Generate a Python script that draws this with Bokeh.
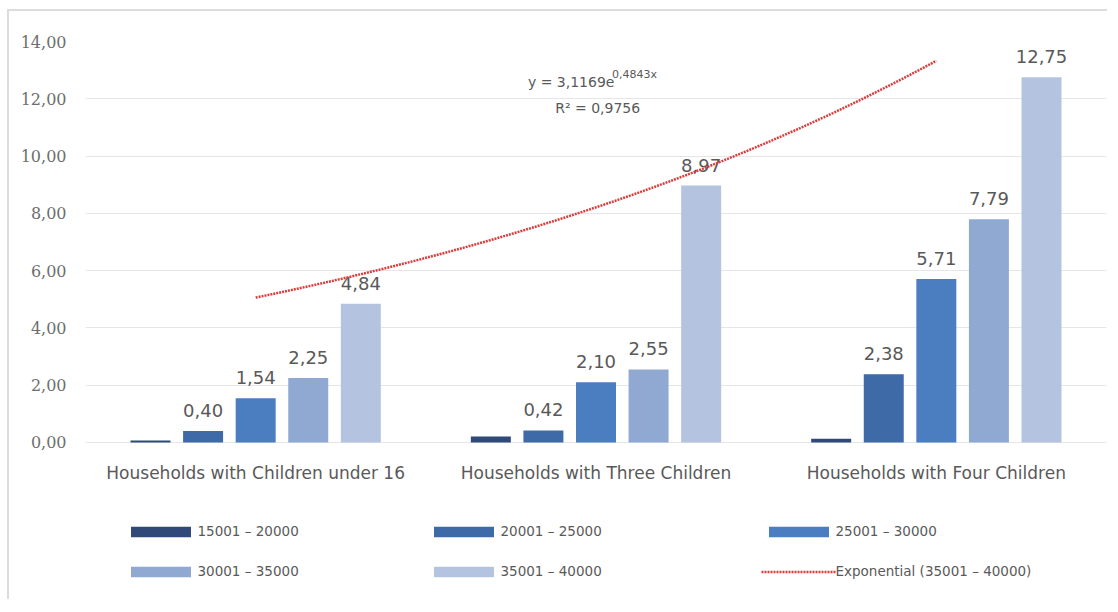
import numpy as np
from bokeh.plotting import figure
from bokeh.models import (ColumnDataSource, FixedTicker, Legend, LegendItem,
                          Label, Range1d)
from bokeh.core.properties import value
from bokeh.embed import file_html
from bokeh.resources import INLINE

# ---------------- data ----------------
categories = ["Households with Children under 16",
              "Households with Three Children",
              "Households with Four Children"]
series_names = ["15001 – 20000", "20001 – 25000", "25001 – 30000",
                "30001 – 35000", "35001 – 40000"]
s_15001_20000 = [0.07, 0.21, 0.13]
s_20001_25000 = [0.40, 0.42, 2.38]
s_25001_30000 = [1.54, 2.10, 5.71]
s_30001_35000 = [2.25, 2.55, 7.79]
s_35001_40000 = [4.84, 8.97, 12.75]
series_values = [s_15001_20000, s_20001_25000, s_25001_30000,
                 s_30001_35000, s_35001_40000]
labelled = [False, True, True, True, True]
y_ticks = [0, 2, 4, 6, 8, 10, 12, 14]
trend_name = "Exponential (35001 – 40000)"
r_squared = 0.9756

# ---------------- style ----------------
colors = ["#2F4A78", "#3E6AA8", "#4A7EC0", "#8FA9D3", "#B4C4E0"]
TXT = "#595959"
FONT = "DejaVu Sans"

def fmt(v, n=2):
    return f"{v:.{n}f}".replace(".", ",")

p = figure(width=1100, height=590, output_backend="svg", toolbar_location=None,
           x_range=Range1d(0.5, 3.5), y_range=Range1d(-5.552, 14),
           min_border_left=76, min_border_right=3, min_border_top=30,
           min_border_bottom=0)
p.styles = {"border-left": "2px solid #DCDCDC", "border-top": "2px solid #DCDCDC",
            "margin-left": "7px", "margin-top": "9px"}
p.outline_line_color = None
p.background_fill_color = "white"
p.border_fill_color = "white"

group_x = np.arange(1, len(categories) + 1)
pitch = 0.1545
bar_w = 0.1175
renderers = []
for i, (name, vals) in enumerate(zip(series_names, series_values)):
    xs = group_x + (i - 2) * pitch
    src = ColumnDataSource(dict(x=xs, top=vals, lab=[fmt(v) for v in vals]))
    r = p.vbar(x="x", top="top", width=bar_w, bottom=0, source=src,
               fill_color=colors[i], line_color=None)
    renderers.append(r)
    if labelled[i]:
        p.text(x="x", y="top", text="lab", source=src, text_align="center",
               text_baseline="bottom", y_offset=-14, text_font=value(FONT),
               text_font_size="18px", text_color=TXT)

# category labels (drawn inside the extended frame)
p.text(x=group_x, y=[-1.08] * len(categories), text=categories,
       text_align="center", text_baseline="middle", text_font=value(FONT),
       text_font_size="17px", text_color=TXT)

# exponential trendline fitted to the 35001-40000 series
b, ln_a = np.polyfit(group_x, np.log(s_35001_40000), 1)
a = np.exp(ln_a)
tx = np.linspace(group_x[0], group_x[-1], 80)
ty = a * np.exp(b * tx)
tr = p.line(tx, ty, line_color="#DC3C3C", line_width=2.5, line_dash="2 1")

# equation labels
p.add_layout(Label(x=1.80, y=12.3, text="y = " + fmt(a, 4) + "e",
                   text_font=FONT, text_font_size="14px", text_color=TXT))
p.add_layout(Label(x=2.047, y=12.62, text=fmt(b, 4) + "x",
                   text_font=FONT, text_font_size="11px", text_color=TXT))
p.add_layout(Label(x=1.88, y=11.4, text="R² = " + fmt(r_squared, 4),
                   text_font=FONT, text_font_size="14px", text_color=TXT))

# axes
p.xaxis.visible = False
p.yaxis.ticker = FixedTicker(ticks=y_ticks)
p.yaxis.major_label_overrides = {t: fmt(t) for t in y_ticks}
p.yaxis.major_label_text_font = "DejaVu Serif"
p.yaxis.major_label_text_font_size = "16px"
p.yaxis.major_label_text_color = "#6E6E6E"
p.yaxis.major_label_standoff = 19
p.yaxis.major_tick_out = 0
p.yaxis.major_tick_in = 0
p.yaxis.axis_line_color = None
p.yaxis.major_tick_line_color = None
p.yaxis.minor_tick_line_color = None

p.xgrid.grid_line_color = None
p.ygrid.ticker = FixedTicker(ticks=y_ticks)
p.ygrid.grid_line_color = "#E6E6E6"
p.ygrid.grid_line_width = 1

# legends: three columns of two rows
cols = [[(series_names[0], renderers[0]), (series_names[3], renderers[3])],
        [(series_names[1], renderers[1]), (series_names[4], renderers[4])],
        [(series_names[2], renderers[2]), (trend_name, tr)]]
lx = [37.5, 340.5, 675.5]
for c, x0 in zip(cols, lx):
    leg = Legend(items=[LegendItem(label=l, renderers=[r]) for l, r in c],
                 location=(x0, 22), orientation="vertical",
                 glyph_width=75, glyph_height=13, label_standoff=0,
                 spacing=24, padding=0, margin=0,
                 border_line_color=None, background_fill_alpha=0,
                 label_text_font=FONT, label_text_font_size="13.5px",
                 label_text_color=TXT)
    p.add_layout(leg, "center")

open("out.html", "w").write(file_html(p, INLINE))
